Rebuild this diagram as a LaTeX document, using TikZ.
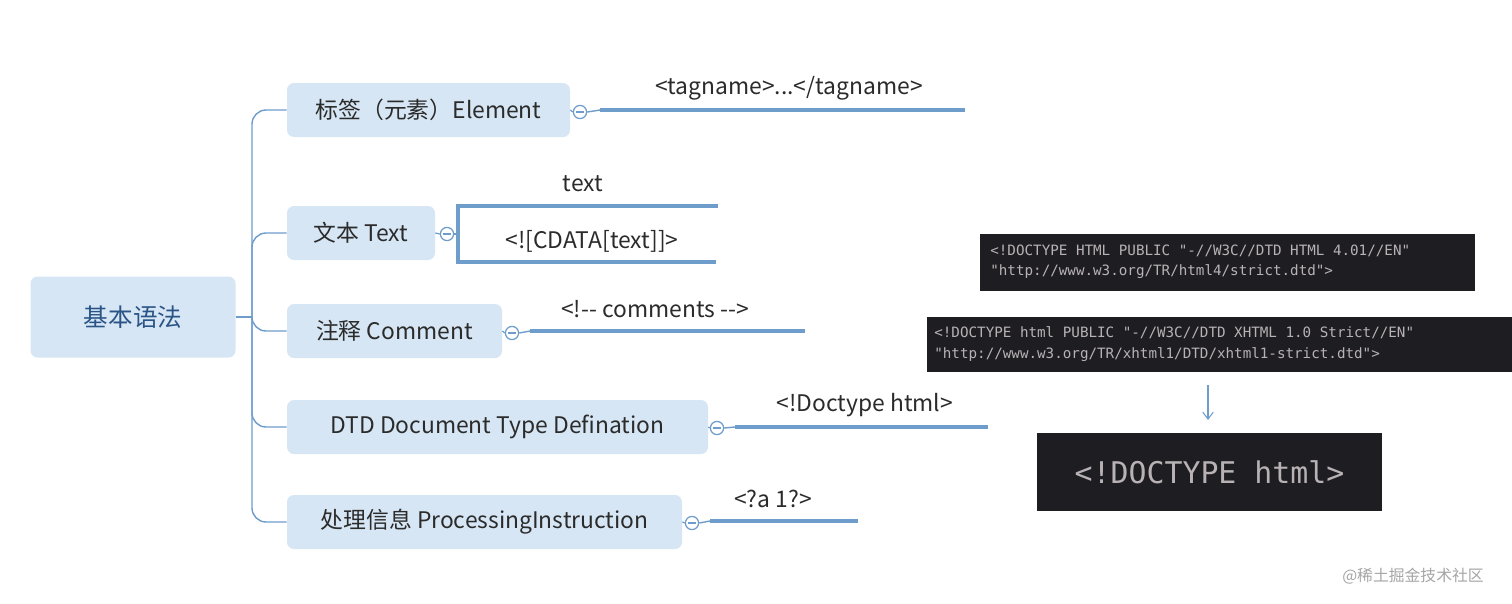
\documentclass[tikz,border=0pt]{standalone}
\usepackage{fontspec}
\usetikzlibrary{arrows.meta}
\setmainfont{Noto Sans CJK SC}
\newfontfamily\codefont{DejaVu Sans Mono}
\begin{document}
\definecolor{nodefill}{HTML}{D6E6F4}
\definecolor{linec}{HTML}{6E9CCB}
\definecolor{txt}{HTML}{2B2B2B}
\definecolor{roottxt}{HTML}{2A5486}
\definecolor{codebg}{HTML}{1E1E22}
\definecolor{codefg}{HTML}{B8B2B5}
\begin{tikzpicture}[x=0.02cm,y=-0.02cm,
  box/.style={fill=nodefill,rounded corners=4pt,inner sep=0pt,text=txt,font=\fontsize{13}{15}\selectfont},
  lbl/.style={text=txt,font=\fontsize{13}{15}\selectfont,inner sep=0pt},
  br/.style={draw=linec,line width=0.8pt,rounded corners=8pt},
  leaf/.style={draw=linec,line width=2pt},
  knob/.style={circle,draw=linec,fill=white,line width=0.7pt,minimum size=7.5pt,inner sep=0pt,
    path picture={\draw[linec,line width=0.6pt] ([xshift=-2pt]path picture bounding box.center) -- ([xshift=2pt]path picture bounding box.center);}},
  code/.style={fill=codebg,text=codefg,inner sep=0pt,align=left}]
\useasboundingbox (0,0) rectangle (1512,603);
\fill[white] (0,0) rectangle (1512,603);
\node[box,minimum width=205*0.02cm,minimum height=81*0.02cm,text=roottxt,font=\fontsize{14}{16}\selectfont] (root) at (133,317) {基本语法};
\node[box,minimum width=283*0.02cm,minimum height=54*0.02cm] (n1) at (428.5,110) {标签（元素）Element};
\node[box,minimum width=148*0.02cm,minimum height=54*0.02cm] (n2) at (361,233) {文本 Text};
\node[box,minimum width=215*0.02cm,minimum height=54*0.02cm] (n3) at (394.5,331) {注释 Comment};
\node[box,minimum width=421*0.02cm,minimum height=54*0.02cm] (n4) at (497.5,427) {DTD Document Type Defination};
\node[box,minimum width=395*0.02cm,minimum height=54*0.02cm] (n5) at (484.5,522) {处理信息 ProcessingInstruction};
\coordinate (j) at (252,317);
\draw[br] (root.east) -- (j);
\foreach \n in {n1,n2,n3,n4,n5} \draw[br] (j) |- (\n.west);
% knobs
\node[knob] (k1) at (580,112) {};
\node[knob] (k2) at (447,234) {};
\node[knob] (k3) at (512,333) {};
\node[knob] (k4) at (717,428) {};
\node[knob] (k5) at (692,523) {};
\foreach \a/\b in {n1/k1,n2/k2,n3/k3,n4/k4,n5/k5} \draw[linec,line width=0.7pt] (\a.east) -- (\b.west);
% leaves
\coordinate (e1) at (965,110); \coordinate (s1) at (600,110);
\draw[linec,line width=0.8pt] (k1.east) -- (s1); \draw[leaf] (s1) -- (e1);
\node[lbl] (l1) at (789,88) {<tagname>...</tagname>};
\coordinate (t2) at (718,206); \coordinate (b2) at (716,262);
\draw[linec,line width=1.2pt] (k2.east) -- (458,234);
\draw[leaf] (t2) -- (458,206) -- (458,262) -- (b2);
\node[lbl] (l2a) at (583,184) {text};
\node[lbl] (l2b) at (592,241) {<![CDATA[text]]>};
\coordinate (s3) at (530,331); \coordinate (e3) at (805,331);
\draw[linec,line width=0.8pt] (k3.east) -- (s3); \draw[leaf] (s3) -- (e3);
\node[lbl] (l3) at (655,309) {<!-{}- comments -{}->};
\coordinate (s4) at (735,427); \coordinate (e4) at (988,427);
\draw[linec,line width=0.8pt] (k4.east) -- (s4); \draw[leaf] (s4) -- (e4);
\node[lbl] (l4) at (865,405) {<!Doctype html>};
\coordinate (s5) at (710,521); \coordinate (e5) at (858,521);
\draw[linec,line width=0.8pt] (k5.east) -- (s5); \draw[leaf] (s5) -- (e5);
\node[lbl] (l5) at (773,499) {<?a 1?>};
% code boxes
\fill[codebg] (980,234) rectangle (1475,291);
\node[code,anchor=west,font=\codefont\fontsize{8.1}{11.5}\selectfont] (c1) at (990,262) {<!DOCTYPE HTML PUBLIC "-//W3C//DTD HTML 4.01//EN"\\"http://www.w3.org/TR/html4/strict.dtd">};
\fill[codebg] (927,317) rectangle (1512,372);
\node[code,anchor=west,font=\codefont\fontsize{8.1}{11.5}\selectfont] (c2) at (934,344) {<!DOCTYPE html PUBLIC "-//W3C//DTD XHTML 1.0 Strict//EN"\\"http://www.w3.org/TR/xhtml1/DTD/xhtml1-strict.dtd">};
\node[code,minimum width=345*0.02cm,minimum height=78*0.02cm,font=\codefont\fontsize{17}{20}\selectfont] (c3) at (1209.5,472) {<!DOCTYPE html>};
\coordinate (a1) at (1208,385);
\draw[-{Straight Barb[length=4pt,width=6pt]},linec,line width=0.6pt] (a1) -- (1208,420);
\node[text=gray!70,font=\fontsize{9}{10}\selectfont,inner sep=0pt] (wm) at (1413,576) {@稀土掘金技术社区};
\end{tikzpicture}
\end{document}
